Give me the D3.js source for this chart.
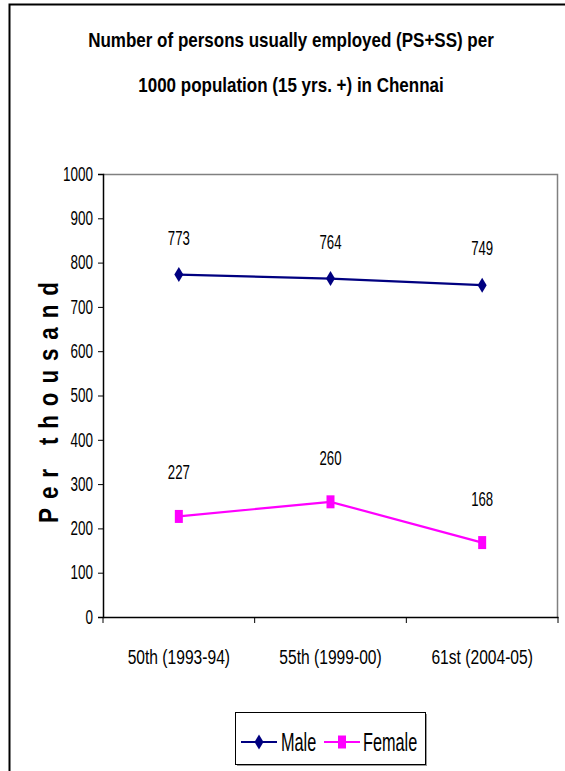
<!DOCTYPE html>
<html>
<head>
<meta charset="utf-8">
<script src="https://cdn.jsdelivr.net/npm/d3@7"></script>
<style>
  html, body { margin: 0; padding: 0; background: #fff; }
  svg { display: block; }
  text { font-family: "Liberation Sans", Arial, sans-serif; }
</style>
</head>
<body>
<svg id="chart" width="565" height="771"></svg>
<script>
// Survey rounds along the x axis
const rounds = ["50th (1993-94)", "55th (1999-00)", "61st (2004-05)"];
// Persons usually employed per 1000 population (15 yrs. +)
const maleValues = [773, 764, 749];
const femaleValues = [227, 260, 168];
// Y axis ticks
const yTicks = [0, 100, 200, 300, 400, 500, 600, 700, 800, 900, 1000];

const series = [
  { name: "Male", values: maleValues, color: "#000080", marker: "diamond", labelOffset: 37 },
  { name: "Female", values: femaleValues, color: "#FF00FF", marker: "square", labelOffset: 44 }
];

// Narrow the glyphs of a text selection to a fraction of their natural width
function condense(sel, f) {
  sel.each(function () {
    const w = this.getComputedTextLength();
    d3.select(this).attr("textLength", w * f).attr("lengthAdjust", "spacingAndGlyphs");
  });
}

const svg = d3.select("#chart");

// Outer frame (left and top edges)
svg.append("path")
  .attr("d", "M9.5,771 V4.5 H565")
  .attr("fill", "none")
  .attr("stroke", "#000")
  .attr("stroke-width", 2);

// Title, two centred lines in a narrow bold face
const titleLines = ["Number of persons usually employed (PS+SS) per", "1000 population (15 yrs. +) in Chennai"];
svg.selectAll(".title")
  .data(titleLines)
  .join("text")
  .attr("class", "title")
  .attr("transform", (d, i) => `translate(291,${47 + i * 45}) scale(0.81,1)`)
  .attr("text-anchor", "middle")
  .attr("font-weight", "bold")
  .attr("font-size", 21)
  .attr("fill", "#000")
  .text(d => d);

const plot = { left: 103, right: 558, top: 174, bottom: 617 };

const x = d3.scaleBand().domain(rounds).range([plot.left, plot.right]);
const y = d3.scaleLinear().domain([0, 1000]).range([plot.bottom, plot.top]);

// Plot area border: grey top and right
svg.append("path")
  .attr("d", `M${plot.left},${plot.top + 0.5} H${plot.right - 0.5} V${plot.bottom}`)
  .attr("fill", "none")
  .attr("stroke", "#808080")
  .attr("stroke-width", 1.5);

// Y axis
const yAxis = svg.append("g")
  .attr("transform", `translate(${plot.left},0)`)
  .call(d3.axisLeft(y).tickValues(yTicks).tickSize(5).tickPadding(5).tickFormat(d3.format("d")));
yAxis.select(".domain").attr("stroke", "#000").attr("stroke-width", 1.5);
yAxis.selectAll(".tick line").attr("stroke", "#000");
yAxis.selectAll(".tick text")
  .attr("font-size", 19.5)
  .attr("fill", "#000")
  .style("font-family", "'Liberation Sans', Arial, sans-serif")
  .call(condense, 0.69);

// X axis with ticks at category boundaries
const xAxis = svg.append("g")
  .attr("transform", `translate(0,${plot.bottom})`)
  .call(d3.axisBottom(x).tickSize(0).tickPadding(33));
xAxis.select(".domain").attr("stroke", "#000").attr("stroke-width", 1.5);
xAxis.selectAll(".tick text")
  .attr("font-size", 19.5)
  .attr("fill", "#000")
  .style("font-family", "'Liberation Sans', Arial, sans-serif")
  .call(condense, 0.8);
const boundaries = rounds.map(r => x(r)).concat([x(rounds[rounds.length - 1]) + x.bandwidth()]);
xAxis.selectAll(".boundary")
  .data(boundaries)
  .join("line")
  .attr("class", "boundary")
  .attr("x1", d => d).attr("x2", d => d)
  .attr("y1", 0).attr("y2", 6)
  .attr("stroke", "#000")
  .attr("stroke-width", 1);

// Y axis title, letter-spaced along its length
svg.append("text")
  .attr("transform", "translate(58,402.5) rotate(-90) scale(0.8,1)")
  .attr("text-anchor", "middle")
  .attr("font-weight", "bold")
  .attr("font-size", 28)
  .attr("textLength", 301)
  .attr("lengthAdjust", "spacing")
  .attr("fill", "#000")
  .text("Per thousand");

const cx = r => x(r) + x.bandwidth() / 2;
const diamond = "M0,-7.5 L4.5,0 L0,7.5 L-4.5,0 Z";
const square = "M-4,-6.5 H4 V6.5 H-4 Z";

const line = d3.line().x((d, i) => cx(rounds[i])).y(d => y(d));

series.forEach(s => {
  const g = svg.append("g");
  g.append("path")
    .datum(s.values)
    .attr("d", line)
    .attr("fill", "none")
    .attr("stroke", s.color)
    .attr("stroke-width", 2.2);
  g.selectAll(".marker")
    .data(s.values)
    .join("path")
    .attr("class", "marker")
    .attr("transform", (d, i) => `translate(${cx(rounds[i])},${y(d)})`)
    .attr("d", s.marker === "diamond" ? diamond : square)
    .attr("fill", s.color);
  g.selectAll(".value")
    .data(s.values)
    .join("text")
    .attr("class", "value")
    .attr("x", (d, i) => cx(rounds[i]))
    .attr("y", d => y(d) - s.labelOffset)
    .attr("dy", "0.35em")
    .attr("text-anchor", "middle")
    .attr("font-size", 20)
    .attr("fill", "#000")
    .text(d => d)
    .call(condense, 0.66);
});

// Legend
const legend = svg.append("g").attr("transform", "translate(235,712)");
legend.append("rect")
  .attr("x", 2).attr("y", 2).attr("width", 190).attr("height", 52)
  .attr("fill", "#9a9a9a");
legend.append("rect")
  .attr("x", 0.5).attr("y", 0.5).attr("width", 190).attr("height", 52)
  .attr("fill", "#fff").attr("stroke", "#000").attr("stroke-width", 1);
const legendItems = [
  { s: series[0], x0: 6, tx: 46 },
  { s: series[1], x0: 89, tx: 128 }
];
legendItems.forEach(it => {
  const ly = 30;
  legend.append("line")
    .attr("x1", it.x0).attr("x2", it.x0 + 36)
    .attr("y1", ly).attr("y2", ly)
    .attr("stroke", it.s.color).attr("stroke-width", 2.2);
  legend.append("path")
    .attr("transform", `translate(${it.x0 + 18},${ly})`)
    .attr("d", it.s.marker === "diamond" ? diamond : square)
    .attr("fill", it.s.color);
  legend.append("text")
    .attr("x", it.tx).attr("y", ly)
    .attr("dy", "0.35em")
    .attr("font-size", 25)
    .attr("fill", "#000")
    .text(it.s.name)
    .call(condense, 0.65);
});
</script>
</body>
</html>
